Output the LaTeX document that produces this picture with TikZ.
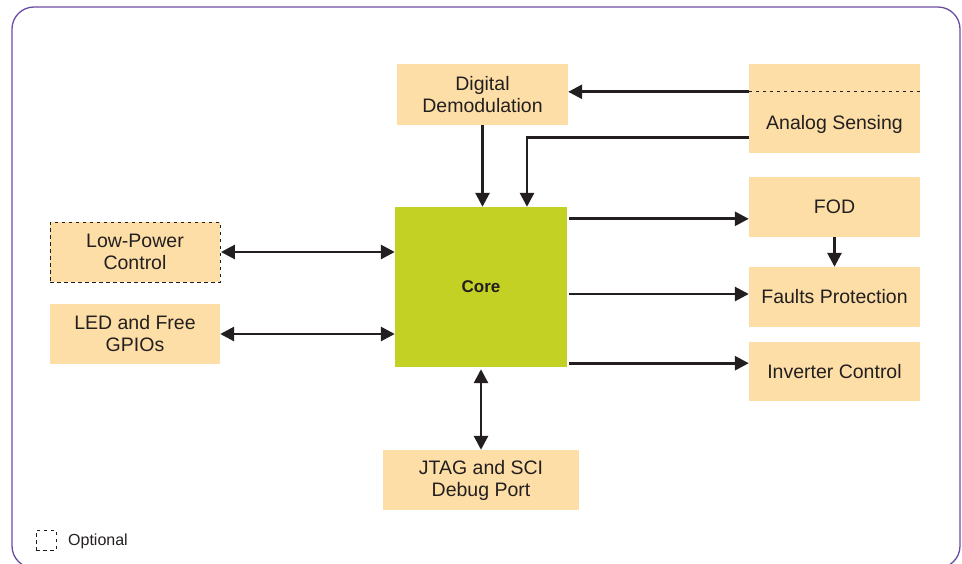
\documentclass[tikz,border=0pt]{standalone}
\usepackage{fontspec}
\setmainfont{Liberation Sans}
\usetikzlibrary{arrows.meta}

\definecolor{boxfill}{RGB}{253,222,166}
\definecolor{corefill}{RGB}{195,208,36}
\definecolor{frame}{RGB}{107,76,165}
\definecolor{ink}{RGB}{35,31,32}

\tikzset{
    block/.style={fill=boxfill, inner sep=0pt, align=center, text=ink,
        font=\fontsize{19.5}{22}\selectfont},
    optline/.style={draw=ink, line width=0.9pt, dash pattern=on 3.5pt off 3.5pt},
    arr/.style={draw=ink, line width=2.8pt, -{Triangle[length=14pt,width=14pt]}},
    biarr/.style={arr, {Triangle[length=14pt,width=14pt]}-{Triangle[length=14pt,width=14pt]}}
}

\begin{document}
\begin{tikzpicture}[x=1pt,y=-1pt]

\useasboundingbox (0,0) rectangle (962,563);
\draw [frame, line width=1.3pt, rounded corners=22pt] (12,7) rectangle (960,568);

\node (core) [block,
    fill=corefill,
    minimum width=172pt,
    minimum height=160pt,
    font=\fontsize{17}{20}\selectfont\bfseries
] at (481,287) {Core};

\node (demod) [block,
    minimum width=171pt,
    minimum height=61pt
] at (482.5,94.5) {Digital\\Demodulation};

\node (analog) [block,
    minimum width=171pt,
    minimum height=89pt
] at (834.5,108.5) {};
\node (analoglabel) [block, fill=none] at (834.5,124) {Analog Sensing};

\node (fod) [block,
    minimum width=171pt,
    minimum height=60pt
] at (834.5,207) {FOD};

\node (faults) [block,
    minimum width=171pt,
    minimum height=60pt
] at (834.5,297) {Faults Protection};

\node (inverter) [block,
    minimum width=171pt,
    minimum height=59pt
] at (834.5,371.5) {Inverter Control};

\node (lowpower) [block,
    optline,
    minimum width=170pt,
    minimum height=60pt
] at (135,252) {Low-Power\\Control};

\node (gpio) [block,
    minimum width=170pt,
    minimum height=60pt
] at (135,334) {LED and Free\\GPIOs};

\node (jtag) [block,
    minimum width=196pt,
    minimum height=60pt
] at (481,480) {JTAG and SCI\\Debug Port};

% legend
\node (optbox) [optline, minimum size=20pt, inner sep=0pt] at (46,540) {};
\node (optlabel) [anchor=west, inner sep=0pt, text=ink, font=\fontsize{16}{18}\selectfont] at (68,541) {Optional};

\draw [optline] ([yshift=-28pt]analog.north west) -- ([yshift=-28pt]analog.north east);

\draw [arr] ([yshift=-28pt]analog.north west) -- ([yshift=-28pt]analog.north west -| demod.east);
\draw [arr] ([yshift=-74pt]analog.north west) -| ([xshift=46pt]core.north);
\draw [arr] (demod.south) -- (demod.south |- core.north);

\draw [arr] ([xshift=2pt,yshift=-12pt]core.north east) -- ([yshift=-12pt]core.north east -| fod.west);
\draw [arr] (fod.south) -- (faults.north);
\draw [arr] ([xshift=2pt,yshift=-7pt]core.east) -- ([yshift=-7pt]core.east -| faults.west);
\draw [arr] ([xshift=2pt,yshift=4pt]core.south east) -- ([yshift=4pt]core.south east -| inverter.west);

\draw [biarr] ([xshift=0.5pt]lowpower.east) -- (lowpower.east -| core.west);
\draw [biarr] (gpio.east) -- (gpio.east -| core.west);
\draw [biarr] ([yshift=-2pt]core.south) -- (core.south |- jtag.north);

\end{tikzpicture}
\end{document}
